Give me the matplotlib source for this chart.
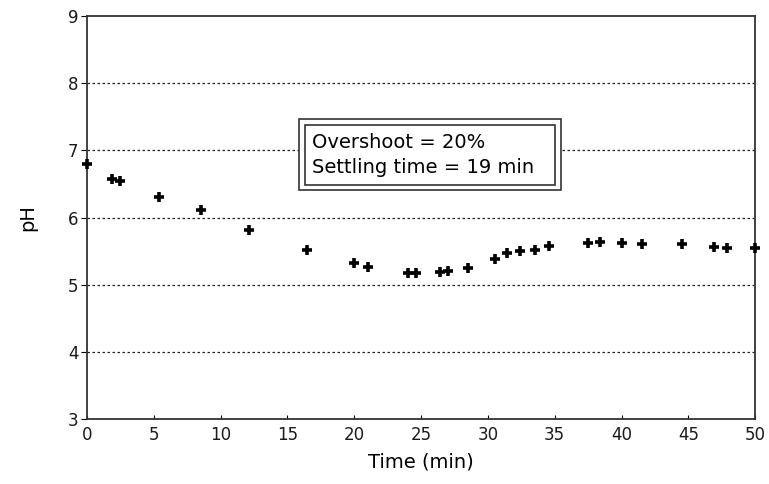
import matplotlib
matplotlib.use("Agg")
import matplotlib.pyplot as plt
from matplotlib.patches import Rectangle

# ─── DATA ─────────────────────────────────────────────────────────────────────
time_min = [0.0, 1.9, 2.5, 5.4, 8.5, 12.1, 16.5, 20.0, 21.0, 24.0, 24.6,
            26.4, 27.0, 28.5, 30.5, 31.4, 32.4, 33.5, 34.6, 37.5, 38.4,
            40.0, 41.5, 44.5, 46.9, 47.9, 50.0]
ph = [6.80, 6.57, 6.54, 6.30, 6.11, 5.81, 5.51, 5.32, 5.27, 5.18, 5.17,
      5.19, 5.20, 5.25, 5.38, 5.47, 5.50, 5.51, 5.57, 5.62, 5.63,
      5.62, 5.60, 5.60, 5.56, 5.54, 5.54]

x_ticks = [0, 5, 10, 15, 20, 25, 30, 35, 40, 45, 50]
y_ticks = [3, 4, 5, 6, 7, 8, 9]
grid_levels = [4, 5, 6, 7, 8]
box_lines = ["Overshoot = 20%", "Settling time = 19 min"]

# ─── PLOT ─────────────────────────────────────────────────────────────────────
plt.rcParams["font.family"] = ["DejaVu Sans"]

fig = plt.figure(figsize=(7.69, 4.84), dpi=100)
ax = fig.add_axes([0.113, 0.134, 0.869, 0.833])

for lvl in grid_levels:
    ax.axhline(lvl, color="#222222", lw=0.9, ls=(0, (2, 2)), zorder=1)

ax.plot(time_min, ph, ls="none", marker="+", ms=7, mew=2.6,
        color="black", zorder=3, clip_on=False)

ax.set_xlim(0, 50)
ax.set_ylim(3, 9)
ax.set_xticks(x_ticks)
ax.set_yticks(y_ticks)
ax.tick_params(axis="x", direction="in", length=3, labelsize=12, pad=5,
               labelcolor="#1a1a1a")
ax.tick_params(axis="y", direction="out", length=4, labelsize=12, pad=2,
               labelcolor="#1a1a1a")
ax.set_xlabel("Time (min)", fontsize=14, labelpad=6)
ax.set_ylabel("pH", fontsize=14)
ax.yaxis.set_label_coords(-0.075, 0.5)

for sp in ax.spines.values():
    sp.set_color("#333333")
    sp.set_linewidth(1.3)

# double framed annotation box
ax.add_patch(Rectangle((0.317, 0.568), 0.393, 0.176, transform=ax.transAxes,
                       fill=True, fc="white", ec="#333333", lw=1.2, zorder=4))
ax.add_patch(Rectangle((0.326, 0.581), 0.375, 0.149, transform=ax.transAxes,
                       fill=False, ec="#333333", lw=1.2, zorder=5))
ax.text(0.337, 0.687, box_lines[0], transform=ax.transAxes, fontsize=14,
        va="center", ha="left", zorder=6)
ax.text(0.337, 0.623, box_lines[1], transform=ax.transAxes, fontsize=14,
        va="center", ha="left", zorder=6)

fig.savefig("out.png", dpi=100)
